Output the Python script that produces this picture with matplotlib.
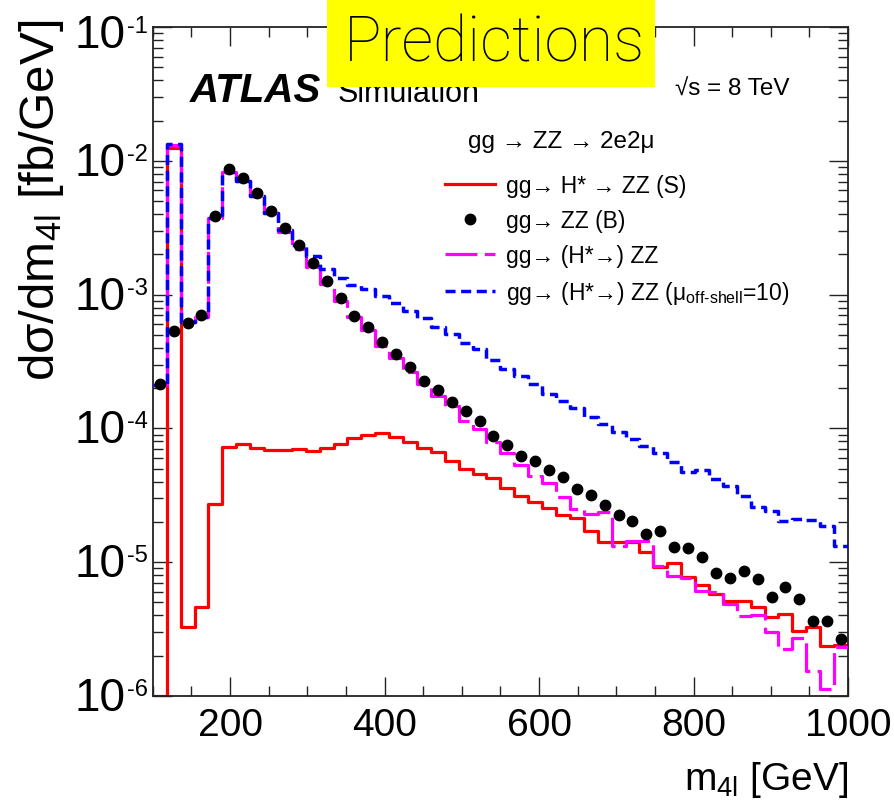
import numpy as np
import matplotlib
matplotlib.use("Agg")
import matplotlib.pyplot as plt
from matplotlib.lines import Line2D
from matplotlib.patches import Rectangle
from matplotlib.transforms import blended_transform_factory
from matplotlib.ticker import MultipleLocator, LogLocator, NullFormatter

plt.rcParams['font.family'] = ['Liberation Sans', 'DejaVu Sans']
plt.rcParams['mathtext.fontset'] = 'custom'
plt.rcParams['mathtext.rm'] = 'Liberation Sans'
plt.rcParams['mathtext.it'] = 'Liberation Sans:italic'
plt.rcParams['mathtext.bf'] = 'Liberation Sans:bold'

# ---------------- data ----------------
m4l_edges = np.linspace(100, 1000, 51)   # 50 bins of 18 GeV

signal_S = [1.0e-6, 1.25e-2, 3.3e-6, 4.6e-6, 2.7e-5, 7.2e-5, 7.6e-5, 7.1e-5, 6.9e-5, 6.9e-5,
            7.0e-5, 6.8e-5, 7.1e-5, 7.7e-5, 8.5e-5, 9.0e-5, 9.3e-5, 8.6e-5, 7.9e-5, 7.1e-5,
            6.7e-5, 5.7e-5, 4.95e-5, 4.55e-5, 4.25e-5, 3.6e-5, 3.1e-5, 2.83e-5, 2.56e-5, 2.25e-5,
            2.15e-5, 1.72e-5, 1.42e-5, 1.41e-5, 1.42e-5, 1.2e-5, 9.2e-6, 9.8e-6, 7.7e-6, 6.7e-6,
            5.8e-6, 5.15e-6, 5.1e-6, 4.6e-6, 3.87e-6, 4.1e-6, 3.05e-6, 3.26e-6, 2.38e-6, 2.4e-6]

background_B = [2.15e-4, 5.3e-4, 6.1e-4, 7.0e-4, 3.9e-3, 8.7e-3, 7.5e-3, 5.7e-3, 4.25e-3, 3.12e-3,
                2.35e-3, 1.72e-3, 1.26e-3, 9.45e-4, 6.9e-4, 5.7e-4, 4.43e-4, 3.6e-4, 2.86e-4, 2.27e-4,
                1.94e-4, 1.57e-4, 1.34e-4, 1.13e-4, 8.7e-5, 7.5e-5, 6.25e-5, 5.7e-5, 4.9e-5, 4.3e-5,
                3.5e-5, 3.2e-5, 2.68e-5, 2.27e-5, 2.02e-5, 1.63e-5, 1.7e-5, 1.31e-5, 1.27e-5, 1.09e-5,
                8.3e-6, 7.65e-6, 8.55e-6, 7.45e-6, 5.5e-6, 6.5e-6, 5.27e-6, 3.63e-6, 3.63e-6, 2.65e-6]

total_SB = [2.1e-4, 1.32e-2, 6.2e-4, 6.85e-4, 3.75e-3, 8.3e-3, 7.1e-3, 5.45e-3, 4.05e-3, 2.95e-3,
            2.2e-3, 1.6e-3, 1.21e-3, 8.9e-4, 6.75e-4, 5.45e-4, 4.15e-4, 3.35e-4, 2.63e-4, 2.15e-4,
            1.75e-4, 1.48e-4, 1.13e-4, 9.85e-5, 7.98e-5, 6.55e-5, 5.33e-5, 4.42e-5, 3.9e-5, 3.07e-5,
            2.5e-5, 2.29e-5, 2.36e-5, 1.33e-5, 1.45e-5, 1.45e-5, 9.4e-6, 7.85e-6, 7.65e-6, 6.1e-6,
            5.96e-6, 4.88e-6, 3.94e-6, 4.0e-6, 3.0e-6, 2.24e-6, 2.7e-6, 1.55e-6, 1.13e-6, 2.31e-6]

total_mu10 = [2.1e-4, 1.33e-2, 6.2e-4, 6.85e-4, 3.75e-3, 8.3e-3, 7.1e-3, 5.45e-3, 4.1e-3, 3.05e-3,
              2.35e-3, 1.95e-3, 1.55e-3, 1.32e-3, 1.18e-3, 1.1e-3, 9.8e-4, 8.7e-4, 7.6e-4, 6.7e-4,
              5.75e-4, 5.08e-4, 4.35e-4, 3.9e-4, 3.22e-4, 2.8e-4, 2.47e-4, 2.15e-4, 1.81e-4, 1.6e-4,
              1.42e-4, 1.21e-4, 1.08e-4, 9.35e-5, 8.3e-5, 7.4e-5, 6.5e-5, 5.6e-5, 4.7e-5, 4.85e-5,
              4.19e-5, 3.73e-5, 3.15e-5, 2.6e-5, 2.4e-5, 2.02e-5, 2.12e-5, 2.07e-5, 1.85e-5, 1.33e-5]

legend_labels = ["gg\u2192 H* \u2192 ZZ (S)",
                 "gg\u2192 ZZ (B)",
                 "gg\u2192 (H*\u2192) ZZ",
                 "gg\u2192 (H*\u2192) ZZ (\u03bc$_{\\mathrm{off\\text{-}shell}}$=10)"]
x_ticks = [200, 400, 600, 800, 1000]
y_decades = [-6, -5, -4, -3, -2, -1]

# ---------------- figure ----------------
W, H = 894, 803
fig = plt.figure(figsize=(W / 100, H / 100), dpi=100)
ax_l, ax_r, ax_t, ax_b = 152.8, 848, 28, 697
ax = fig.add_axes([ax_l / W, 1 - ax_b / H, (ax_r - ax_l) / W, (ax_b - ax_t) / H])

edges = np.asarray(m4l_edges)
centers = 0.5 * (edges[:-1] + edges[1:])

def stepvals(v):
    v = np.asarray(v, dtype=float)
    return np.append(v, v[-1])

red_c, mag_c, blue_c = "#ff0000", "#ff00ff", "#0000ff"
mag_ls = (0, (10, 2.3))
blue_ls = (0, (2.9, 1.6))
ax.step(edges, stepvals(signal_S), where="post", color=red_c, lw=2.3, zorder=2)
ax.step(edges, stepvals(total_SB), where="post", color=mag_c, lw=2.3, ls=mag_ls, zorder=3)
ax.step(edges, stepvals(total_mu10), where="post", color=blue_c, lw=2.5, ls=blue_ls, zorder=4)
ax.plot(centers, background_B, "o", color="black", ms=7.5, ls="none", zorder=5)

ax.set_yscale("log")
ax.set_xlim(100, 1000)
ax.set_ylim(1e-6, 1e-1)

ax.set_xticks(x_ticks)
ax.xaxis.set_minor_locator(MultipleLocator(50))
ax.yaxis.set_major_locator(LogLocator(base=10, numticks=10))
ax.yaxis.set_minor_locator(LogLocator(base=10, subs=np.arange(2, 10), numticks=20))
ax.yaxis.set_minor_formatter(NullFormatter())
ax.yaxis.set_major_formatter(NullFormatter())

ax.tick_params(which="both", direction="in", top=True, right=True, color="#222222")
ax.tick_params(which="major", length=14, width=1.0)
ax.tick_params(which="minor", length=7, width=1.0)
ax.tick_params(axis="x", which="major", labelsize=28, pad=8)
for s in ax.spines.values():
    s.set_linewidth(1.3)
    s.set_color("#222222")

# y tick labels in ROOT style: large "10" with small raised exponent
ytr = blended_transform_factory(fig.transFigure, ax.transData)
for e in y_decades:
    dy = -6 if e == -1 else -1.5   # points; top label sits a little lower
    ax.annotate("10", xy=(126 / W, 10.0 ** e), xycoords=ytr,
                xytext=(0, dy), textcoords="offset points", ha="right", va="center",
                fontsize=33, annotation_clip=False)
    ax.annotate(f"-{-e}", xy=(127 / W, 10.0 ** e), xycoords=ytr,
                xytext=(0, dy + 14.5), textcoords="offset points", ha="left", va="top",
                fontsize=17, annotation_clip=False)

# axis titles
fig.text(42 / W, 1 - 20 / H, "d\u03c3/dm$_{\\mathrm{4l}}$ [fb/GeV]", rotation=90,
         ha="center", va="top", fontsize=35.5)
fig.text(848 / W, 1 - 780 / H, "m$_{\\mathrm{4l}}$ [GeV]", ha="right", va="center",
         fontsize=28)

# ATLAS label
fig.text(190 / W, 1 - 102 / H, "ATLAS", fontsize=29, fontweight="bold",
         fontstyle="italic", va="baseline")
fig.text(338 / W, 1 - 102 / H, "Simulation", fontsize=22, va="baseline")
fig.text(675 / W, 1 - 96 / H, "\u221as = 8 TeV", fontsize=17.5, va="baseline")
fig.text(468 / W, 1 - 148 / H, "gg \u2192 ZZ \u2192 2e2\u03bc", fontsize=17.5, va="baseline")

# legend
handles = [Line2D([], [], color=red_c, lw=2.3),
           Line2D([], [], color="black", marker="o", ms=7.5, ls="none"),
           Line2D([], [], color=mag_c, lw=2.3, ls=mag_ls),
           Line2D([], [], color=blue_c, lw=2.5, ls=blue_ls)]
ax.legend(handles, legend_labels, loc="upper left",
          bbox_to_anchor=(445 / W, 1 - 175 / H), bbox_transform=fig.transFigure,
          frameon=False, fontsize=16.5, handlelength=2.2, handletextpad=0.45,
          labelspacing=0.52, borderaxespad=0, borderpad=0)

# yellow "Predictions" box
fig.patches.append(Rectangle((327 / W, 1 - 88 / H), (655 - 327) / W, 88 / H,
                             transform=fig.transFigure, facecolor="#ffff00",
                             edgecolor="none", zorder=10))
fig.text(494 / W, 1 - 62 / H, "Predictions", fontsize=45, ha="center", va="baseline",
         family=["Roboto", "Liberation Sans", "DejaVu Sans"], fontweight="light",
         zorder=11)

fig.savefig("out.png", dpi=100)
